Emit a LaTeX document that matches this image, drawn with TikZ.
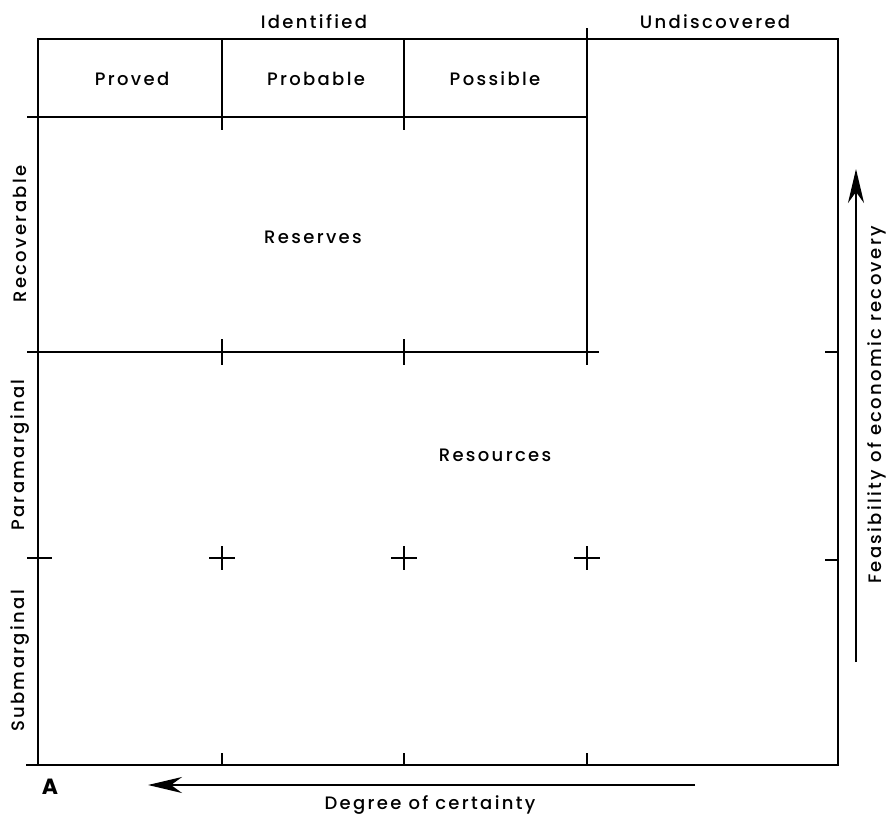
\documentclass[tikz,border=0pt]{standalone}
\usepackage{fontspec}
\setmainfont{Poppins}[UprightFont=* Medium, BoldFont=* Bold, LetterSpace=13]
\usetikzlibrary{arrows.meta}
\begin{document}
\begin{tikzpicture}[x=1pt,y=-1pt,line width=2pt,
  lbl/.style={font=\fontsize{18}{20}\selectfont, inner sep=0pt},
  bigarrow/.style={line width=2.6pt, -{Stealth[length=34pt,width=16pt,inset=11pt]}}]
\useasboundingbox (0,0) rectangle (894,819);
% frame and grid
\draw (38,39) rectangle (838,765);
\draw (27,117) -- (587,117);
\draw (222,39) -- (222,130);
\draw (404,39) -- (404,130);
\draw (587,28) -- (587,365);
\draw (27,352) -- (599,352);
\draw (222,339) -- (222,365);
\draw (404,339) -- (404,365);
\foreach \x in {222,404,587} {
  \draw (\x-13,558) -- (\x+13,558);
  \draw (\x,546) -- (\x,570);
  \draw (\x,765) -- (\x,753);
}
\draw (27,558) -- (52,558);
\draw (825,352) -- (838,352);
\draw (825,560) -- (838,560);
\draw (26,765) -- (38,765);
% labels
\node[lbl] (identified) at (314,22) {Identified};
\node[lbl] (undisc) at (715,22) {Undiscovered};
\node[lbl] (proved) at (132,79) {Proved};
\node[lbl] (probable) at (316,79) {Probable};
\node[lbl] (possible) at (495,79) {Possible};
\node[lbl] (reserves) at (313,237) {Reserves};
\node[lbl] (resources) at (495,455) {Resources};
\node[lbl,rotate=90] (recov) at (20,234) {Recoverable};
\node[lbl,rotate=90] (para) at (20,455) {Paramarginal};
\node[lbl,rotate=90] (sub) at (20,661) {Submarginal};
\node[lbl,rotate=90] (feas) at (877,405) {Feasibility of economic recovery};
\node[lbl,font=\fontsize{22}{24}\selectfont\bfseries] (A) at (50,787) {A};
\node[lbl] (deg) at (430,805) {Degree of certainty};
% arrows
\coordinate (hstart) at (695,785);
\coordinate (hend) at (148,785);
\coordinate (vstart) at (856,662);
\coordinate (vend) at (856,169);
\draw[bigarrow] (hstart) -- (hend);
\draw[bigarrow] (vstart) -- (vend);
\end{tikzpicture}
\end{document}
